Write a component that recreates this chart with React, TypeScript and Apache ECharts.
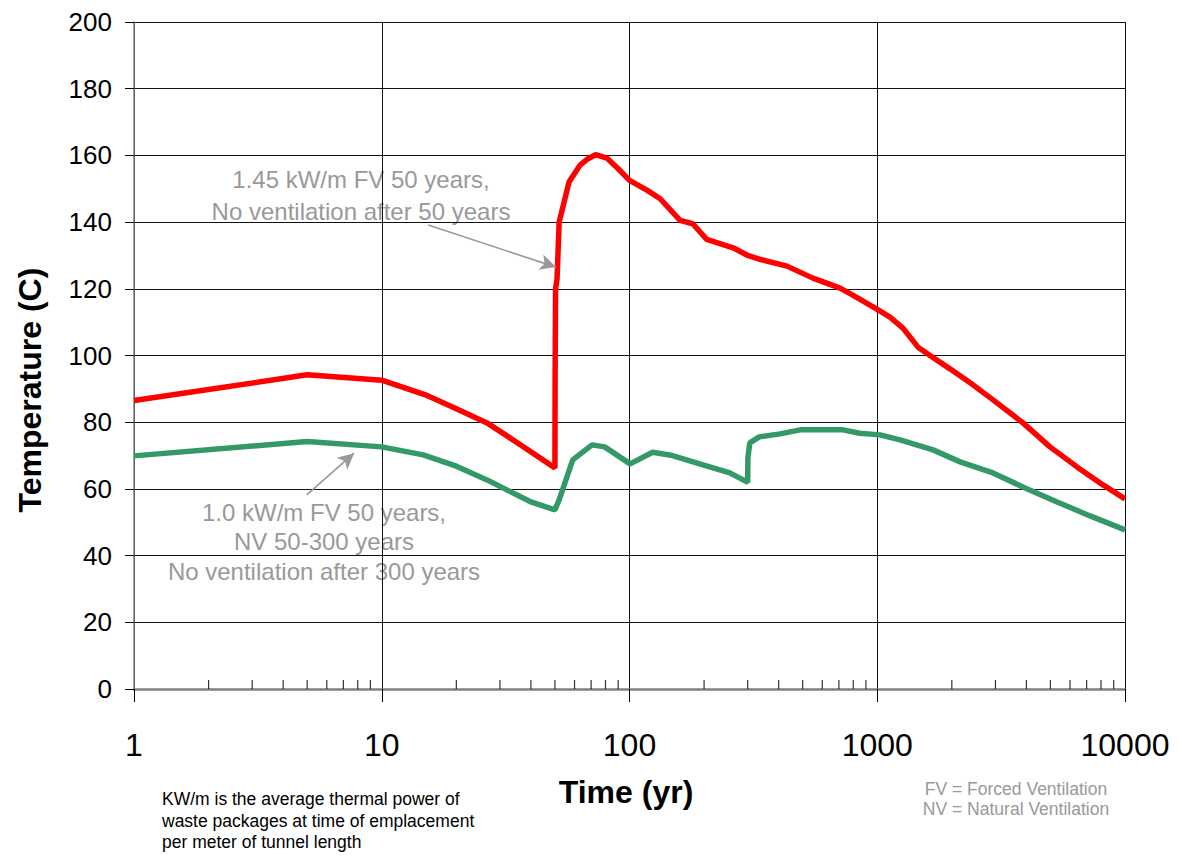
import React, { useEffect, useRef } from "react";
import * as echarts from "echarts";

const FONT = "'Liberation Sans', Arial, sans-serif";

// Red: 1.45 kW/m FV 50 years, no ventilation after 50 years
const redX = [1, 5, 10, 15, 20, 27, 35, 50, 50.1, 50.3, 51, 52, 57, 63, 68, 73, 81, 90, 100, 118, 133, 160, 180, 205, 262, 300, 334, 432, 550, 708, 800, 1000, 1126, 1270, 1460, 1633, 1966, 2434, 2932, 3873, 4980, 6400, 8150, 10000];
const redY = [86.5, 94.2, 92.6, 88.2, 84, 79.5, 74, 66.3, 95, 120, 123, 140, 152, 157, 159, 160.2, 159.2, 156, 152.5, 149.5, 147, 140.5, 139.5, 134.8, 132.3, 130, 128.9, 126.8, 123.2, 120.2, 118, 113.8, 111.5, 108.2, 102.5, 100, 96, 91.2, 86.7, 79.8, 72.6, 66.6, 61.2, 57];

// Green: 1.0 kW/m FV 50 years, NV 50-300 years, no ventilation after 300 years
const greenX = [1, 5, 10, 14.7, 20, 26.6, 39.7, 50, 52, 59, 70.6, 79.4, 100.6, 124, 149, 198, 254, 298, 300, 300.5, 306, 334, 405, 488, 727, 850, 1026, 1236, 1680, 2160, 2930, 3870, 5320, 7230, 10000];
const greenY = [69.9, 74.2, 72.6, 70.2, 66.8, 62.7, 56.2, 53.7, 56.7, 68.7, 73.2, 72.6, 67.5, 71, 70, 67.2, 64.8, 62.1, 62, 69.3, 73.8, 75.6, 76.5, 77.7, 77.7, 76.7, 76.2, 74.7, 71.7, 68.1, 64.8, 60.6, 56.1, 51.9, 47.7];

const decades = [1, 10, 100, 1000];
const minorMultipliers = [2, 3, 4, 5, 6, 7, 8, 9];

// Annotation arrows (data coordinates)
const arrowRed = [[15.4, 139.1], [50.5, 126.5]];
const arrowGreen = [[4.98, 58.2], [7.73, 70.7]];

const annotationRed = ["1.45 kW/m FV 50 years,", "No ventilation after 50 years"];
const annotationGreen = ["1.0 kW/m FV 50 years,", "NV 50-300 years", "No ventilation after 300 years"];
const footnote = ["KW/m is the average thermal power of", "waste packages at time of emplacement", "per meter of tunnel length"];
const legendNotes = ["FV = Forced Ventilation", "NV = Natural Ventilation"];

export default function App() {
  const ref = useRef<HTMLDivElement>(null);

  useEffect(() => {
    if (!ref.current) return;
    const chart = echarts.init(ref.current, undefined, { renderer: "svg" });

    const redData = redX.map((x, i) => [x, redY[i]]);
    const greenData = greenX.map((x, i) => [x, greenY[i]]);
    const minorTicks: number[][] = [];
    decades.forEach((d) => minorMultipliers.forEach((m) => minorTicks.push([d * m, 0])));

    const grey = "#999999";
    const graphics: any[] = [];
    annotationRed.forEach((t, i) =>
      graphics.push({
        type: "text", x: 361, y: 179 + i * 32, silent: true,
        style: { text: t, font: `24px ${FONT}`, fill: grey, align: "center", verticalAlign: "middle" },
      })
    );
    annotationGreen.forEach((t, i) =>
      graphics.push({
        type: "text", x: 324, y: 512 + i * 29.5, silent: true,
        style: { text: t, font: `24px ${FONT}`, fill: grey, align: "center", verticalAlign: "middle" },
      })
    );
    footnote.forEach((t, i) =>
      graphics.push({
        type: "text", x: 162, y: 799 + i * 21.5, silent: true,
        style: { text: t, font: `17.5px ${FONT}`, fill: "#000", align: "left", verticalAlign: "middle" },
      })
    );
    legendNotes.forEach((t, i) =>
      graphics.push({
        type: "text", x: 1016, y: 789 + i * 20, silent: true,
        style: { text: t, font: `17.5px ${FONT}`, fill: grey, align: "center", verticalAlign: "middle" },
      })
    );
    graphics.push({
      type: "text", x: 30, y: 390, rotation: Math.PI / 2, silent: true,
      style: { text: "Temperature (C)", font: `bold 32px ${FONT}`, fill: "#000", align: "center", verticalAlign: "middle" },
    });
    graphics.push({
      type: "text", x: 626, y: 792, silent: true,
      style: { text: "Time (yr)", font: `bold 32px ${FONT}`, fill: "#000", align: "center", verticalAlign: "middle" },
    });

    const arrowLine = (a: number[][]) => [
      { coord: a[0], symbol: "none" },
      { coord: a[1], symbol: "arrow" },
    ];

    chart.setOption({
      animation: false,
      backgroundColor: "#ffffff",
      textStyle: { fontFamily: FONT },
      grid: { left: 134, right: 57, top: 22, bottom: 167, containLabel: false },
      xAxis: {
        type: "log",
        logBase: 10,
        min: 1,
        max: 10000,
        axisLine: { show: true, lineStyle: { color: "#808080", width: 2.5 } },
        axisTick: { show: true, inside: false, length: 13, lineStyle: { color: "#000", width: 1 } },
        axisLabel: {
          fontSize: 32, color: "#000", margin: 40, fontFamily: FONT,
          formatter: (v: number) => String(Math.round(v)),
        },
        splitLine: { show: true, lineStyle: { color: "#111", width: 1 } },
      },
      yAxis: {
        type: "value",
        min: 0,
        max: 200,
        interval: 20,
        axisLine: { show: true, lineStyle: { color: "#808080", width: 1.5 } },
        axisTick: { show: true, inside: false, length: 9, lineStyle: { color: "#000", width: 1 } },
        axisLabel: { fontSize: 26, color: "#000", margin: 22, fontFamily: FONT },
        splitLine: { show: true, lineStyle: { color: "#111", width: 1 } },
      },
      series: [
        {
          type: "scatter",
          data: minorTicks,
          symbol: "rect",
          symbolSize: [1.2, 9],
          symbolOffset: [0, -4.5],
          itemStyle: { color: "#000" },
          clip: false,
          silent: true,
          z: 1,
        },
        {
          type: "line",
          data: greenData,
          showSymbol: false,
          symbol: "none",
          lineStyle: { color: "#339966", width: 5.5 },
          z: 3,
          markLine: {
            silent: true,
            symbolSize: [12, 16],
            label: { show: false },
            lineStyle: { color: grey, width: 1.6, type: "solid" },
            data: [arrowLine(arrowGreen)],
          },
        },
        {
          type: "line",
          data: redData,
          showSymbol: false,
          symbol: "none",
          lineStyle: { color: "#ff0000", width: 5.5 },
          z: 4,
          markLine: {
            silent: true,
            symbolSize: [12, 16],
            label: { show: false },
            lineStyle: { color: grey, width: 1.6, type: "solid" },
            data: [arrowLine(arrowRed)],
          },
        },
      ],
      graphic: graphics,
    });

    return () => chart.dispose();
  }, []);

  return (
    <div
      ref={ref}
      style={{ position: "fixed", left: 0, top: 0, width: 1182, height: 856, background: "#fff" }}
    />
  );
}
